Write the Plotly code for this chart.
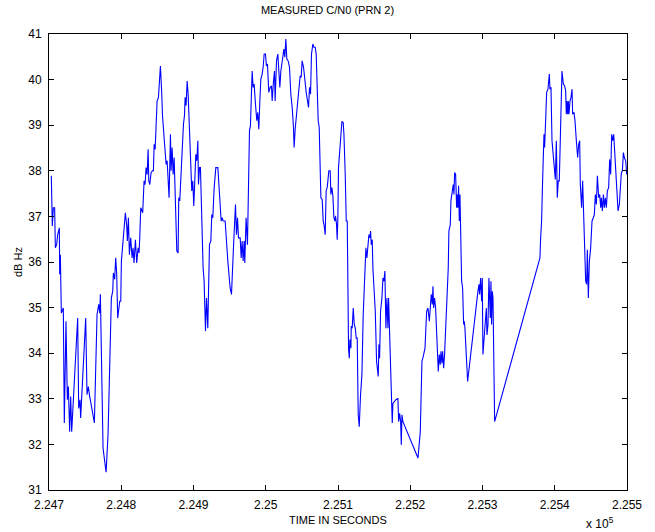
import plotly.graph_objects as go

# Time in seconds, C/N0 in dB Hz
time_s = [
    224703.2, 224704.6, 224706.0, 224707.8, 224708.8, 224710.6, 224712.0, 224713.4, 224714.3, 224714.8,
    224715.7, 224717.1, 224719.8, 224721.2, 224723.5, 224725.4, 224726.8, 224728.6, 224730.0, 224731.4,
    224734.6, 224739.7, 224741.1, 224742.9, 224743.8, 224746.6, 224750.8, 224752.6, 224754.5, 224755.9,
    224758.6, 224762.8, 224766.5, 224768.8, 224770.2, 224771.1, 224774.8, 224779.0, 224781.7, 224786.3,
    224788.2, 224789.1, 224790.9, 224792.3, 224793.7, 224795.1, 224797.9, 224799.3, 224800.2, 224802.0,
    224804.3, 224805.7, 224807.6, 224808.5, 224809.9, 224811.3, 224813.1, 224815.0, 224816.3, 224817.7,
    224819.6, 224821.4, 224823.3, 224824.6, 224825.6, 224827.0, 224829.7, 224831.6,
    224833.0, 224834.4, 224835.8, 224837.2, 224838.1, 224839.5, 224841.3, 224843.2, 224844.5, 224845.5,
    224846.9, 224848.2, 224849.6, 224851.5, 224852.9, 224854.2, 224856.1, 224857.0, 224859.3, 224860.7,
    224862.1, 224863.5, 224864.9, 224866.2, 224868.1, 224869.0, 224870.4, 224871.8, 224873.2, 224875.5,
    224876.9, 224878.7, 224879.6, 224881.0, 224881.9, 224883.3, 224884.7, 224886.1, 224887.5, 224888.4,
    224889.8, 224891.2, 224892.6, 224893.9, 224895.8, 224897.6, 224899.0, 224900.4, 224901.8, 224903.2,
    224904.6, 224906.0, 224906.9, 224908.3, 224909.6, 224911.5, 224913.3, 224914.7, 224916.6, 224918.0,
    224919.8, 224922.1, 224924.0, 224925.3, 224926.7, 224928.6, 224930.9, 224933.7, 224936.4, 224938.3,
    224939.7, 224941.0, 224943.8, 224945.2, 224947.5, 224950.7, 224952.6, 224955.3, 224956.7, 224958.1,
    224959.5, 224960.9, 224962.3, 224964.6, 224966.0,
    224967.3, 224968.7, 224970.1, 224971.0, 224972.8, 224974.7, 224976.5, 224977.5, 224978.8, 224981.2,
    224982.5, 224983.9, 224985.8, 224987.6, 224989.0, 224990.4, 224991.8, 224993.2, 224995.0, 224996.4,
    224997.8, 224999.6, 225001.0, 225002.4, 225004.2, 225006.1, 225007.9, 225008.9, 225010.7, 225012.1,
    225013.0, 225014.9, 225016.7, 225018.1, 225019.5, 225020.9, 225022.2, 225023.6, 225025.0, 225026.4,
    225027.8, 225029.2, 225031.0, 225032.9, 225034.7, 225036.6, 225038.4, 225039.3, 225040.7, 225042.6,
    225044.4, 225046.3, 225047.6, 225049.0, 225050.4, 225052.3, 225054.1, 225056.0, 225057.8, 225059.2,
    225060.6, 225062.0, 225063.3, 225065.2, 225066.6, 225068.4, 225069.8, 225071.6, 225072.6, 225074.0,
    225076.3, 225078.1, 225079.5, 225080.9, 225082.3, 225083.6, 225085.0, 225086.0, 225087.3, 225089.2,
    225090.1, 225091.5, 225092.9, 225094.3, 225095.7, 225096.6, 225098.0, 225098.9, 225099.8, 225100.7,
    225102.6,
    225105.4, 225107.2, 225108.2, 225110.0, 225111.4, 225112.8, 225113.7, 225114.6, 225115.6, 225116.5,
    225117.9, 225118.3, 225119.7, 225121.1, 225122.5, 225123.9, 225125.2, 225126.6, 225128.0, 225129.4,
    225131.2, 225133.1, 225134.9, 225136.8, 225138.6, 225140.0, 225141.4, 225142.8, 225144.2, 225145.1,
    225146.0, 225147.4, 225148.3, 225149.7, 225151.6, 225153.4, 225155.7, 225156.6, 225157.6, 225158.9,
    225160.8, 225162.2, 225163.6, 225164.9, 225166.3, 225167.7, 225169.1, 225170.0, 225171.4, 225173.3,
    225174.6, 225175.1, 225176.0, 225177.9, 225180.2, 225182.9, 225183.9, 225185.3, 225186.7, 225187.6,
    225188.5, 225189.9, 225210.7, 225213.9, 225216.2, 225218.0, 225220.4, 225222.7, 225224.5, 225226.4,
    225227.7, 225229.1, 225230.5, 225231.4, 225232.4, 225233.7, 225235.1,
    225237.4, 225238.8, 225240.2, 225241.5, 225242.5, 225243.8, 225244.8, 225246.2, 225247.5, 225248.9,
    225249.9, 225251.2, 225252.6, 225253.5, 225255.4, 225256.3, 225258.2, 225259.5, 225260.5, 225261.4,
    225262.8, 225264.2, 225265.1, 225266.0, 225266.9, 225267.9, 225268.8, 225269.7, 225271.1, 225272.5,
    225273.9, 225274.8, 225275.7, 225277.1, 225279.4, 225293.7, 225295.1, 225296.0, 225297.4,
    225298.8, 225299.7, 225300.6, 225302.0, 225303.4, 225305.3, 225306.2, 225307.6, 225308.9, 225310.3,
    225310.8, 225311.7, 225312.6, 225313.6, 225314.5, 225316.8,
    225379.5, 225380.5, 225381.8, 225383.2, 225385.1, 225386.0, 225387.4, 225388.8, 225390.6,
    225392.5, 225393.4, 225394.8, 225396.2, 225397.1, 225399.4, 225400.8, 225402.2, 225403.5, 225404.9,
    225406.3, 225407.7, 225408.6, 225410.0, 225411.9, 225413.7, 225415.1, 225416.0, 225416.9, 225417.9,
    225418.8, 225419.7, 225421.1, 225422.5, 225423.9, 225424.8, 225426.6, 225428.0, 225429.9, 225431.7,
    225433.1, 225434.5, 225435.4, 225437.2, 225438.6, 225440.0, 225441.9, 225442.8, 225444.2, 225445.1,
    225446.5, 225447.9, 225449.7, 225451.6, 225453.4, 225454.8, 225456.2, 225457.6, 225459.0, 225460.8,
    225462.2, 225463.6, 225464.5, 225465.9, 225467.3, 225468.6, 225470.0, 225471.4, 225472.8, 225474.6,
    225476.0, 225477.4, 225478.8, 225480.2, 225481.6, 225483.4, 225485.3, 225487.6, 225489.4, 225490.8,
    225492.2, 225493.6, 225495.0, 225496.3, 225498.2, 225499.6,
]

cn0_dbhz = [
    37.89, 36.79, 37.19, 37.19, 36.31, 36.38, 36.60, 36.75, 36.75, 35.73,
    36.16, 34.88, 34.99, 32.47, 34.70, 32.98, 33.27, 32.28, 33.05, 32.28,
    33.23, 34.77, 32.79, 32.98, 32.58, 33.38, 34.77, 33.09, 33.27, 33.09,
    32.87, 32.47, 34.85, 35.07, 34.88, 35.29, 31.92, 31.39, 32.21, 35.21,
    35.36, 35.76, 35.62, 36.09, 35.73, 34.77, 35.14, 35.14, 36.02, 36.38,
    36.90, 37.08, 36.79, 36.46, 36.97, 36.16, 36.53, 36.09, 36.31, 35.98,
    36.49, 35.98, 36.31, 36.20, 36.53, 37.19, 37.08, 37.78,
    37.70, 38.07, 37.92, 38.47, 37.78, 37.70, 37.96, 38.00, 38.00, 38.58,
    38.47, 38.95, 39.53, 39.61, 39.90, 40.30, 39.68, 39.24, 38.73, 38.36,
    38.14, 38.22, 37.85, 37.41, 38.80, 38.00, 38.51, 37.92, 38.29, 37.19,
    36.24, 36.20, 37.41, 37.34, 37.70, 38.14, 38.44, 39.02, 39.21, 39.61,
    39.43, 39.97, 39.68, 39.17, 38.14, 37.56, 37.78, 37.23, 37.78, 38.36,
    38.22, 38.66, 37.70, 38.07, 38.07, 36.60, 35.87, 35.58, 34.49, 35.21,
    34.55, 36.38, 36.46, 37.04, 36.97, 37.63, 38.07, 38.07, 37.26, 36.90,
    36.97, 36.90, 36.90, 36.53, 36.02, 35.43, 35.29, 36.31, 36.97, 37.26,
    36.60, 36.97, 36.53, 36.53, 36.09,
    36.46, 36.02, 36.46, 35.98, 36.97, 36.38, 37.92, 38.88, 38.99, 40.19,
    39.83, 39.90, 39.46, 39.10, 39.28, 38.91, 39.53, 40.01, 40.12, 40.27,
    40.56, 40.56, 40.30, 40.34, 39.72, 39.83, 39.86, 39.53, 39.97, 40.19,
    39.53, 40.41, 40.56, 40.27, 39.83, 40.19, 40.30, 40.49, 40.67, 40.49,
    40.89, 40.45, 40.41, 40.27, 39.68, 39.39, 38.95, 38.51, 38.91, 39.24,
    39.61, 39.97, 40.08, 40.05, 40.41, 40.27, 39.90, 39.72, 39.53, 39.39,
    39.83, 39.68, 40.56, 40.78, 40.71, 40.71, 40.56, 39.68, 39.10, 38.95,
    37.41, 37.37, 36.90, 36.79, 36.60, 37.56, 37.63, 37.78, 38.00, 38.00,
    37.48, 37.63, 37.45, 36.97, 36.90, 37.01, 36.82, 36.49, 36.97, 38.07,
    38.58,
    39.08, 39.06, 38.80, 37.92, 36.90, 36.90, 35.00, 34.11, 33.89, 34.30,
    34.11, 34.59, 34.55, 34.99, 34.63, 34.55, 34.33, 34.33, 32.65, 32.39,
    33.09, 33.53, 34.85, 35.73, 36.31, 36.09, 36.42, 36.60, 36.53, 36.68,
    36.38, 36.49, 35.87, 35.51, 34.92, 33.82, 33.49, 34.19, 33.89, 34.92,
    35.21, 35.65, 35.58, 35.80, 34.55, 35.21, 34.55, 35.21, 34.40, 33.67,
    32.94, 32.47, 32.90, 32.94, 32.98, 33.01, 32.50, 32.68, 32.50, 31.99,
    32.65, 32.50, 31.70, 32.28, 33.82, 33.93, 34.11, 34.92, 34.99, 34.70,
    34.92, 35.29, 35.07, 35.47, 34.99, 35.21, 34.99,
    33.82, 33.60, 33.97, 33.75, 34.04, 33.78, 34.04, 33.67, 33.97, 34.41,
    34.85, 35.29, 35.87, 36.68, 36.82, 37.34, 37.56, 37.70, 37.48, 37.96,
    37.92, 37.19, 37.48, 37.19, 37.67, 36.90, 37.48, 36.90, 35.58, 35.43,
    34.63, 34.70, 34.55, 33.97, 33.38, 35.36, 35.51, 35.29, 35.65,
    35.14, 35.65, 33.97, 34.26, 34.55, 34.99, 34.40, 34.63, 35.65, 35.14,
    34.77, 35.58, 34.63, 35.36, 35.21, 32.50,
    36.09, 36.53, 36.90, 37.78, 38.80, 38.51, 39.17, 39.72, 39.79,
    40.12, 39.79, 39.83, 38.66, 38.44, 38.07, 37.81, 38.66, 37.41, 37.78,
    37.78, 38.80, 39.53, 40.19, 39.90, 39.86, 39.75, 39.24, 39.53, 39.24,
    39.53, 39.24, 39.53, 39.61, 39.79, 39.24, 39.28, 39.10, 38.66, 38.29,
    38.58, 38.66, 37.70, 37.19, 37.78, 36.90, 36.02, 35.58, 35.51, 36.27,
    35.21, 36.02, 36.31, 36.90, 36.97, 37.04, 37.48, 37.26, 37.89, 37.41,
    37.48, 37.19, 37.41, 37.12, 37.48, 37.19, 37.41, 37.19, 37.56, 37.63,
    38.25, 37.92, 38.80, 38.66, 38.80, 38.29, 37.70, 37.12, 37.26, 37.63,
    37.96, 38.00, 38.40, 38.29, 38.22, 37.92,
]

x_tick_vals = [224700, 224800, 224900, 225000, 225100, 225200, 225300, 225400, 225500]
x_tick_text = ["2.247", "2.248", "2.249", "2.25", "2.251", "2.252", "2.253", "2.254", "2.255"]
y_tick_vals = [31, 32, 33, 34, 35, 36, 37, 38, 39, 40, 41]

FONT = "Liberation Sans, Arial, sans-serif"

fig = go.Figure()
fig.add_trace(go.Scatter(
    x=time_s, y=cn0_dbhz, mode="lines",
    line=dict(color="#0000ff", width=1.1),
    hoverinfo="skip", showlegend=False,
))

axis_common = dict(
    showline=True, linecolor="black", linewidth=1, mirror="allticks",
    ticks="inside", ticklen=5, tickcolor="black", tickwidth=1,
    showgrid=False, zeroline=False,
    tickfont=dict(family=FONT, size=12, color="black"),
)

fig.update_layout(
    width=655, height=532,
    margin=dict(l=49, r=28, t=34, b=42),
    paper_bgcolor="white", plot_bgcolor="white",
    xaxis=dict(range=[224700, 225500], tickmode="array",
               tickvals=x_tick_vals, ticktext=x_tick_text,
               ticklabelstandoff=4, **axis_common),
    yaxis=dict(range=[31, 41], tickmode="array", tickvals=y_tick_vals,
               ticklabelstandoff=4, **axis_common),
    title=dict(text="MEASURED C/N0 (PRN 2)", x=0.5, xanchor="center",
               y=1 - 10 / 532, yanchor="middle",
               font=dict(family=FONT, size=11, color="black")),
    annotations=[
        dict(text="TIME IN SECONDS", xref="paper", yref="paper",
             x=0.5, y=-(520 - 490) / 456, xanchor="center", yanchor="middle",
             showarrow=False, font=dict(family=FONT, size=11, color="black")),
        dict(text="dB Hz", xref="paper", yref="paper",
             x=(18 - 49) / 578, y=0.5, xanchor="center", yanchor="middle",
             textangle=-90, showarrow=False,
             font=dict(family=FONT, size=11, color="black")),
        dict(text="x 10<sup>5</sup>", xref="paper", yref="paper",
             x=(600 - 49) / 578, y=-(523 - 490) / 456, xanchor="center", yanchor="middle",
             showarrow=False, font=dict(family=FONT, size=12, color="black")),
    ],
)

fig.write_html("out.html", config={"displayModeBar": False},
               post_script="document.body.style.margin='0';")
